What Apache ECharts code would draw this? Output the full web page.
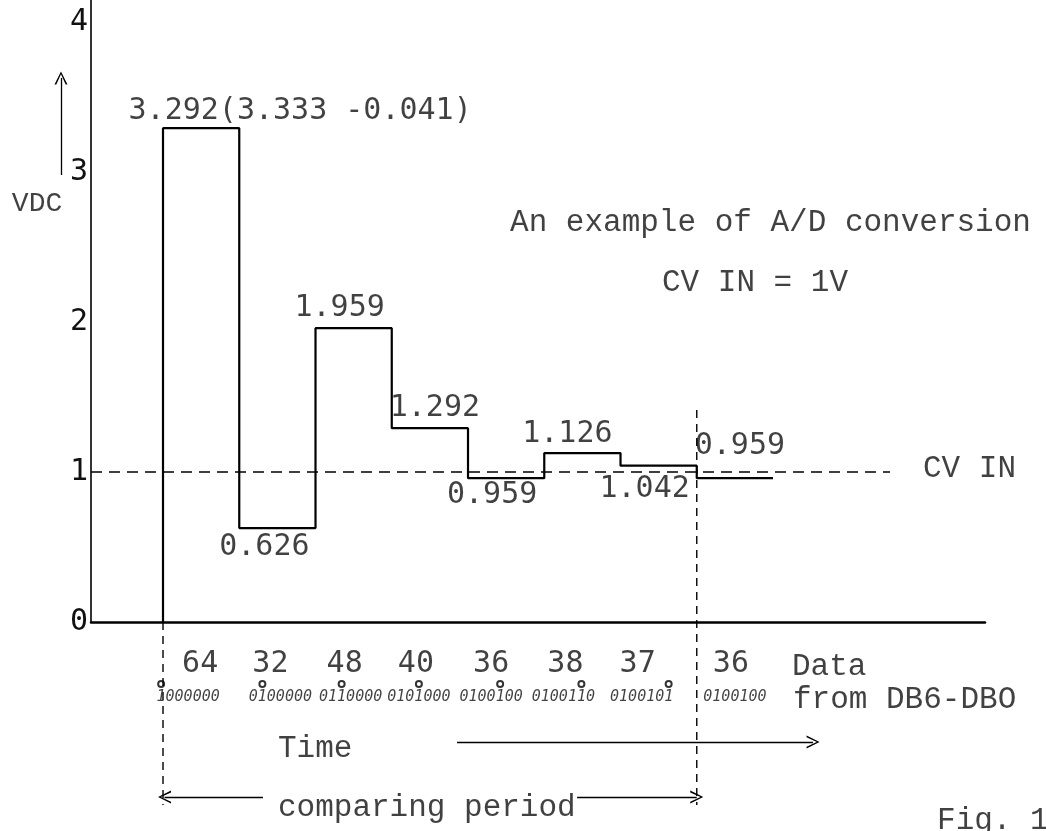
<!DOCTYPE html>
<html>
<head>
<meta charset="utf-8">
<script src="https://cdn.jsdelivr.net/npm/echarts@6/dist/echarts.min.js"></script>
<style>
html,body{margin:0;padding:0;background:#fff;}
#chart{width:1046px;height:831px;}
</style>
</head>
<body>
<div id="chart"></div>
<script>
// ---------- data ----------
const stepValues = [3.292, 0.626, 1.959, 1.292, 0.959, 1.126, 1.042, 0.959];
const stepLabels = ['3.292(3.333 -0.041)', '0.626', '1.959', '1.292', '0.959', '1.126', '1.042', '0.959'];
const dataCodes = ['64', '32', '48', '40', '36', '38', '37', '36'];
const binaryCodes = ['1000000', '0100000', '0110000', '0101000', '0100100', '0100110', '0100101', '0100100'];
const cvIn = 1;
const yTickValues = [0, 1, 2, 3, 4];

// ---------- layout (pixel offsets / annotation anchors) ----------
const X_MIN = -0.9443, X_MAX = 10.780, Y_MIN = -1.3933, Y_TOP = 4.1467;
const stepLabelOffsets = [[99, -17], [-13, 19], [-14, -20], [5, -20], [-14, 17], [-15, -19], [-14, 23], [5, -32]];
const codeOffsets = [-1, -7, -9, -14, -15, -17, -21, -4];
const binOffsets = [-13, 3, -3, -11, -15, -19, -17, 0];
const BIN_CHAR = 9;
const CODE_ROW = -0.28, BIN_ROW = -0.5;
const notes = [
  {text: 'VDC', at: [-1.652, 2.787], align: 'center', size: 28},
  {text: 'An example of A/D conversion', at: [4.551, 2.66]},
  {text: 'CV IN = ' + cvIn + 'V', at: [6.544, 2.26]},
  {text: 'CV IN', at: [9.967, 1.02]},
  {text: 'Data', at: [8.249, -0.30]},
  {text: 'from DB6-DBO', at: [8.262, -0.52]},
  {text: 'Time', at: [1.508, -0.847]},
  {text: 'comparing period', at: [1.508, -1.24]},
  {text: 'Fig. 1', at: [10.151, -1.327]}
];
const NUM_FONT = 'DejaVu Sans Mono';
const TXT_FONT = 'Liberation Mono';
const chevron = 'path://M5,0 L10,14 L8.6,14 L5,3 L1.4,14 L0,14 Z';

// step polyline built from values
const n = stepValues.length;
const stepPts = [[0, 0]].concat(stepValues.map((v, i) => [i, v]), [[n, stepValues[n - 1]]]);

const transparent = {color: 'rgba(0,0,0,0)'};

const option = {
  backgroundColor: '#fff',
  animation: false,
  grid: {left: 91, top: 0, right: 61, bottom: 0, containLabel: false},
  xAxis: {
    type: 'value', min: X_MIN, max: X_MAX,
    axisLine: {show: true, onZero: true, lineStyle: {color: '#000', width: 2.5}},
    axisTick: {show: false}, axisLabel: {show: false}, splitLine: {show: false}
  },
  yAxis: {
    type: 'value', min: Y_MIN, max: Y_TOP,
    axisLine: {show: false}, axisTick: {show: false}, splitLine: {show: false},
    axisLabel: {
      customValues: yTickValues,
      margin: 3, fontSize: 30, fontFamily: NUM_FONT, color: '#111',
      formatter: v => String(v)
    }
  },
  series: [
    // y axis line from 0 upward
    {type: 'line', data: [[X_MIN, 0], [X_MIN, Y_TOP]], symbol: 'none', clip: false,
     lineStyle: {color: '#000', width: 1.6}, silent: true},
    // CV IN reference line
    {type: 'line', data: [[X_MIN, cvIn], [9.534, cvIn]], symbol: 'none',
     lineStyle: {color: '#000', width: 1.5, type: [11, 7]}, silent: true},
    // comparison steps
    {type: 'line', step: 'end', data: stepPts, symbol: 'none',
     lineStyle: {color: '#000', width: 2.2}},
    // vertical dashed guides of the comparing period
    {type: 'line', data: [[0, 0], [0, -1.22]], symbol: 'none',
     lineStyle: {color: '#000', width: 1.4, type: [8, 6]}},
    {type: 'line', data: [[7, 1.413], [7, -1.22]], symbol: 'none',
     lineStyle: {color: '#000', width: 1.4, type: [8, 6]}},
    // arrows
    {type: 'lines', coordinateSystem: 'cartesian2d', clip: false,
     symbol: ['none', chevron], symbolSize: 13,
     lineStyle: {color: '#000', width: 1.3, opacity: 1},
     data: [
       {coords: [[3.856, -0.80], [8.525, -0.80]]},
       {coords: [[1.311, -1.167], [0.02, -1.167]]},
       {coords: [[5.43, -1.167], [7, -1.167]]},
       {coords: [[-1.338, 2.98], [-1.338, 3.627]]}
     ]},
    // step value labels
    {type: 'scatter', clip: false, symbolSize: 1, itemStyle: transparent,
     data: stepValues.map((v, i) => ({
       value: [i + 0.5, v], name: stepLabels[i],
       label: {offset: stepLabelOffsets[i]}
     })),
     label: {show: true, position: 'inside', formatter: p => p.name,
       fontSize: 30, fontFamily: NUM_FONT, color: '#111', align: 'center', verticalAlign: 'middle'}},
    // data codes
    {type: 'scatter', clip: false, symbolSize: 1, itemStyle: transparent,
     data: dataCodes.map((c, i) => ({value: [i + 0.5, CODE_ROW], name: c, label: {offset: [codeOffsets[i], 0]}})),
     label: {show: true, position: 'inside', formatter: p => p.name,
       fontSize: 30, fontFamily: NUM_FONT, color: '#111', align: 'center', verticalAlign: 'middle'}},
    // binary codes
    {type: 'scatter', clip: false, symbolSize: 1, itemStyle: transparent,
     data: binaryCodes.map((c, i) => ({value: [i + 0.5, BIN_ROW], name: c, label: {offset: [binOffsets[i], 0]}})),
     label: {show: true, position: 'inside', formatter: p => p.name,
       fontSize: 15, fontStyle: 'italic', fontFamily: NUM_FONT, color: '#111', align: 'center', verticalAlign: 'middle'}},
    // bit-under-test marks
    {type: 'scatter', clip: false, symbol: 'emptyCircle', symbolSize: 6,
     itemStyle: {color: '#000', borderWidth: 1.2},
     data: binaryCodes.slice(0, 7).map((c, i) => ({
       value: [i + 0.5, BIN_ROW], symbolOffset: [binOffsets[i] + (i - 3) * BIN_CHAR, -13]
     }))},
    // text annotations
    {type: 'scatter', clip: false, symbolSize: 1, itemStyle: transparent,
     data: notes.map(o => ({
       value: o.at, name: o.text,
       label: {align: o.align || 'left', fontSize: o.size || 31}
     })),
     label: {show: true, position: 'inside', formatter: p => p.name,
       fontFamily: TXT_FONT, color: '#111', verticalAlign: 'middle'}}
  ]
};

const chart = echarts.init(document.getElementById('chart'), null, {renderer: 'canvas'});
chart.setOption(option);
</script>
</body>
</html>
